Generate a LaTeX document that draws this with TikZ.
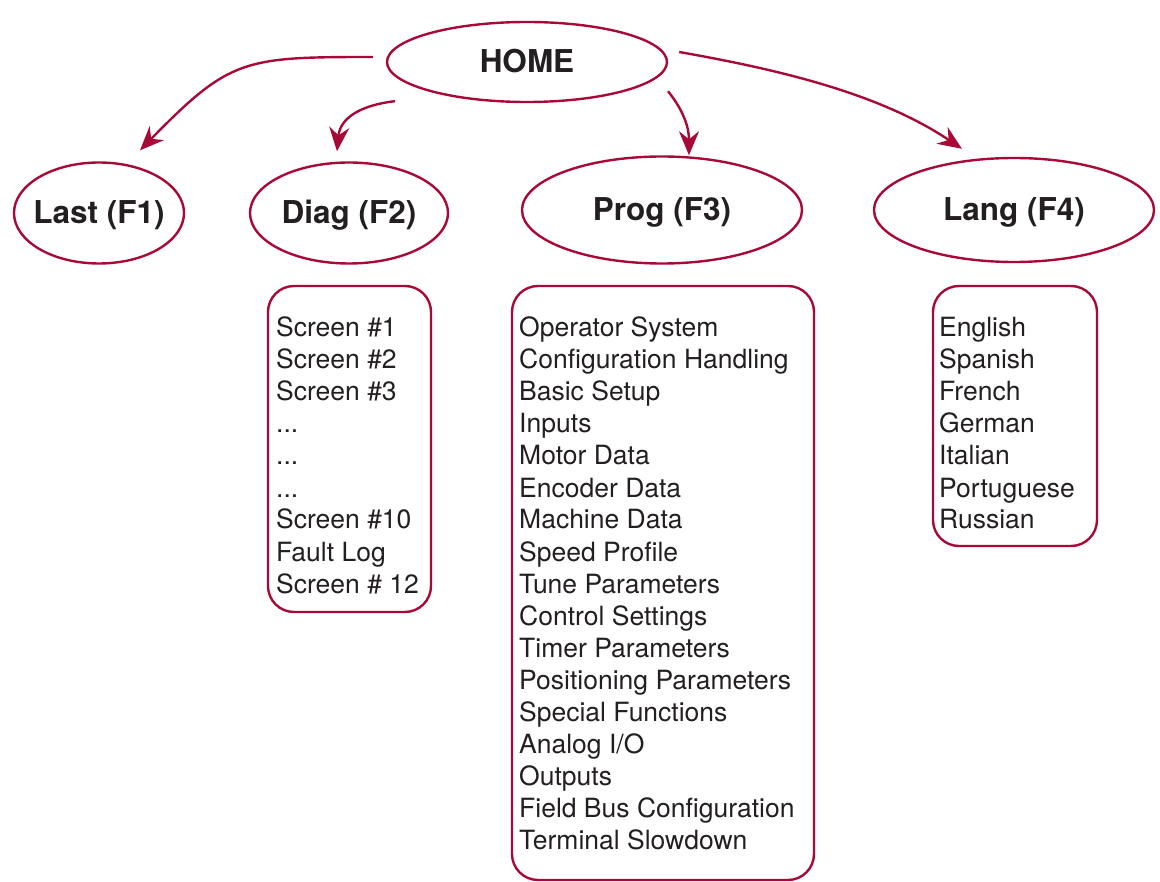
\documentclass[tikz,border=0pt]{standalone}
\usepackage{fontspec}
\setmainfont{TeX Gyre Heros}
\usetikzlibrary{arrows.meta,shapes.geometric,calc}
\definecolor{crim}{RGB}{168,10,56}
\definecolor{ink}{RGB}{35,31,32}
\begin{document}
\begin{tikzpicture}[x=1pt,y=-1pt,
  menu/.style={ellipse, draw=crim, line width=2.4pt, inner sep=0pt,
    font=\fontsize{31.5}{36}\selectfont\bfseries, text=ink, text height=22pt, text depth=0pt},
  listbox/.style={draw=crim, line width=2.4pt, rounded corners=26pt},
  item/.style={anchor=base west, inner sep=0pt, font=\fontsize{26.5}{32}\selectfont, text=ink},
  link/.style={draw=crim, line width=2.4pt, -{Stealth[length=24pt,width=20pt,inset=8pt]}}]
\useasboundingbox (0,0) rectangle (1160,882);

\node[menu, minimum width=280pt, minimum height=80pt] (home) at (527,62) {\makebox[0pt]{HOME}};
\node[menu, minimum width=170pt, minimum height=101pt] (last) at (99,213) {\makebox[0pt]{Last (F1)}};
\node[menu, minimum width=198pt, minimum height=101pt] (diag) at (349,213) {\makebox[0pt]{Diag (F2)}};
\node[menu, minimum width=280pt, minimum height=107pt] (prog) at (662,210) {\makebox[0pt]{Prog (F3)}};
\node[menu, minimum width=280pt, minimum height=104pt] (lang) at (1014,210) {\makebox[0pt]{Lang (F4)}};

\draw[link] ($(home.west)+(-13,-5)$) .. controls +(-129,0) and +(90,-92) .. ($(last.north)+(41,-11)$);
\draw[link] ($(home.south)+(-132,-2)$) .. controls +(-35,4) and +(3,-33) .. ($(diag.north)+(-12,-10)$);
\draw[link] ($(home.south)+(141,-12)$) .. controls +(12,15) and +(0,-32) .. ($(prog.north)+(27,0)$);
\draw[link] ($(home.east)+(11,-10)$) .. controls +(102,18) and +(-82,-55) .. ($(lang.north)+(-52,-8)$);

\draw[listbox] (268,286) rectangle (431,612);
\draw[listbox] (512,286) rectangle (814,880);
\draw[listbox] (933,286) rectangle (1097,546);

\foreach \t [count=\i from 0] in {Screen \#1, Screen \#2, Screen \#3, {.{}.{}.}, {.{}.{}.}, {.{}.{}.}, Screen \#10, Fault Log, Screen \# 12}
  \node[item] (d\i) at (276,337+32*\i) {\t};

\foreach \t [count=\i from 0] in {Operator System, Configuration Handling, Basic Setup, Inputs, Motor Data, Encoder Data, Machine Data, Speed Profile, Tune Parameters, Control Settings, Timer Parameters, Positioning Parameters, Special Functions, Analog I/O, Outputs, Field Bus Configuration, Terminal Slowdown}
  \node[item] (p\i) at (519,337+32*\i) {\t};

\foreach \t [count=\i from 0] in {English, Spanish, French, German, Italian, Portuguese, Russian}
  \node[item] (l\i) at (939,337+32*\i) {\t};
\end{tikzpicture}
\end{document}
